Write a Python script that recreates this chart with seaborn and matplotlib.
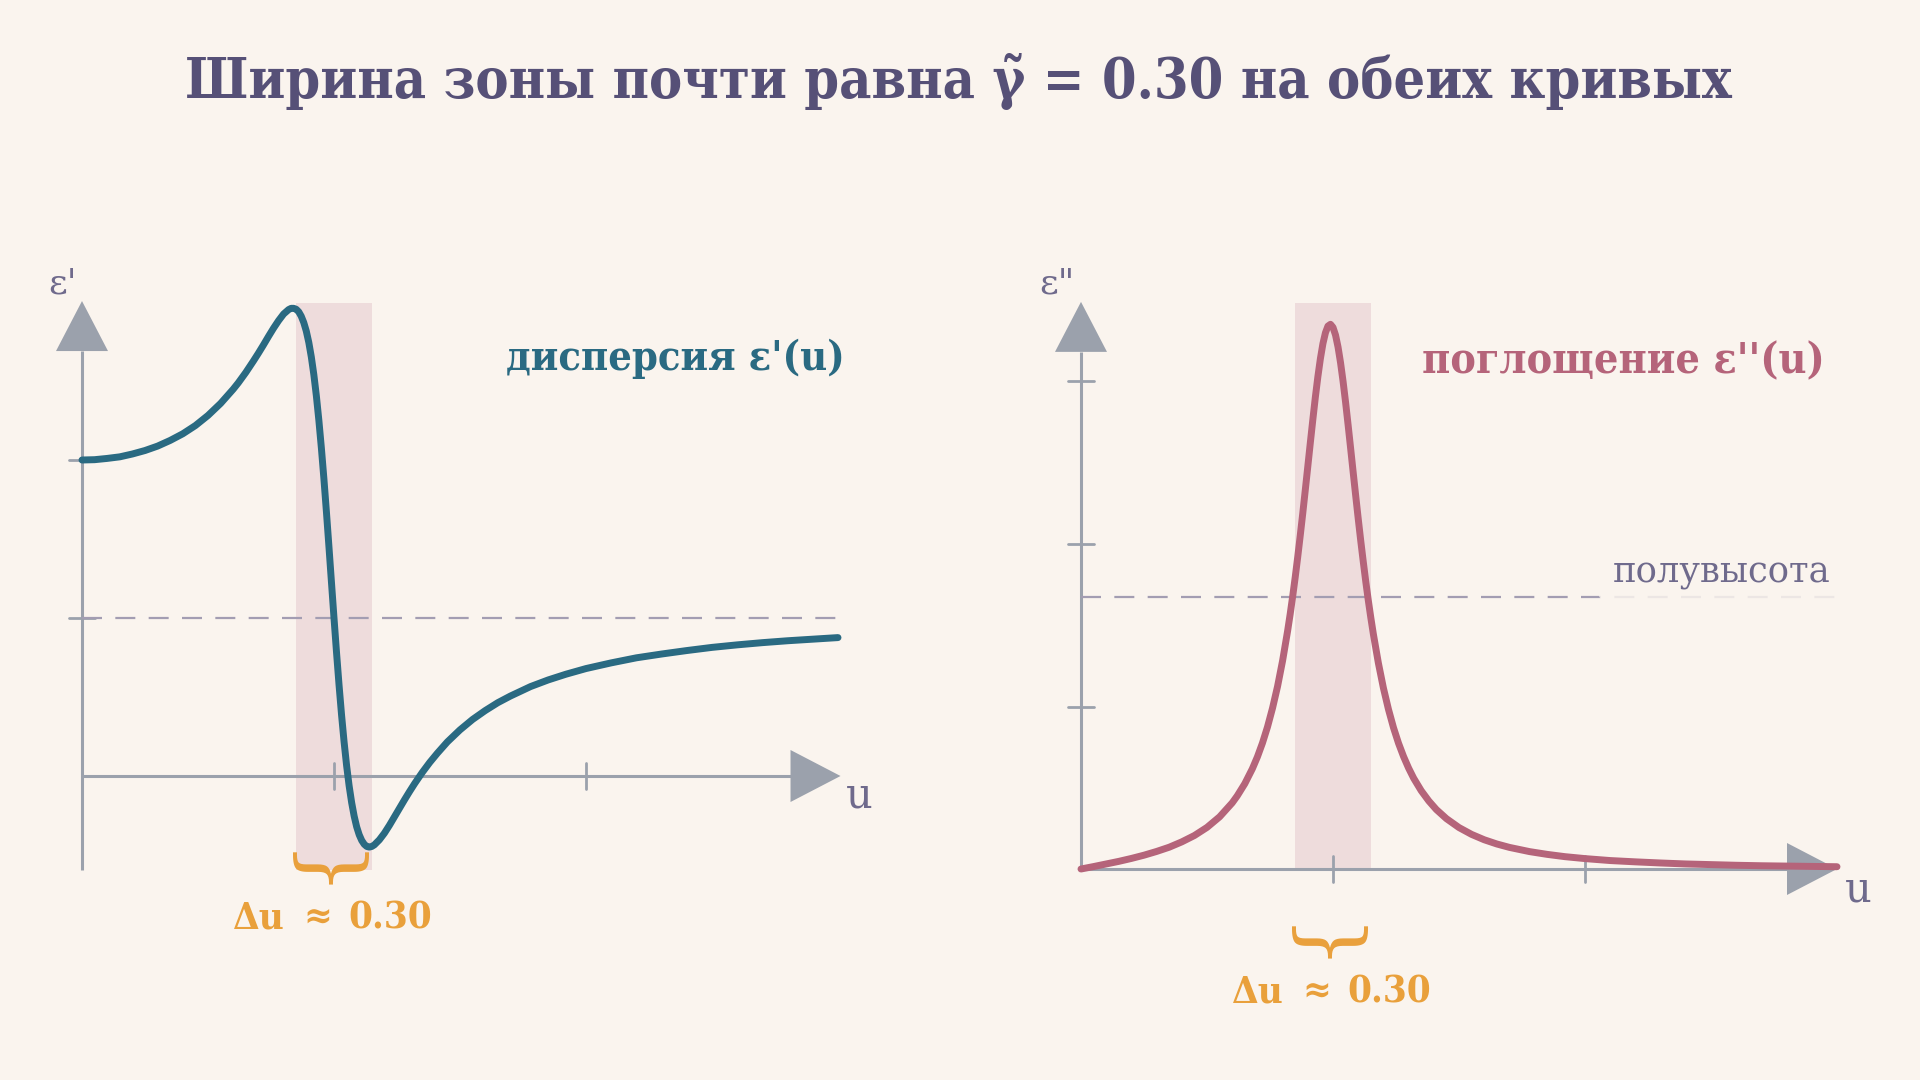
import numpy as np
import pandas as pd
import seaborn as sns
import matplotlib.pyplot as plt
from matplotlib.patches import Polygon

# values (resonance at u = 1, width 0.30)
u = [0.0, 0.05, 0.1, 0.15, 0.2, 0.25, 0.3, 0.35, 0.4, 0.45, 0.5, 0.55, 0.6,
     0.62, 0.65, 0.68, 0.7, 0.72, 0.74, 0.76, 0.78, 0.8, 0.82,
     0.83, 0.84, 0.85, 0.86, 0.87, 0.88, 0.89, 0.9, 0.91, 0.92, 0.93, 0.94, 0.95, 0.96, 0.97, 0.98, 0.99,
     1.0, 1.01, 1.02, 1.03, 1.04, 1.05, 1.06, 1.07, 1.08, 1.09, 1.1, 1.11, 1.12, 1.13, 1.14, 1.15, 1.16,
     1.18, 1.2, 1.22, 1.24, 1.26, 1.28, 1.3, 1.32,
     1.35, 1.38, 1.41, 1.45, 1.5, 1.55, 1.6, 1.65, 1.7,
     1.78, 1.85, 1.92, 2.0,
     2.1, 2.2, 2.3, 2.4, 2.5, 2.6, 2.7, 2.8, 2.9, 3.0]
eps_re = [1.000, 1.001, 1.005, 1.010, 1.019, 1.030, 1.044, 1.062, 1.083, 1.109, 1.141, 1.179, 1.224,
          1.244, 1.277, 1.313, 1.338, 1.364, 1.391, 1.417, 1.441, 1.462, 1.476,
          1.480, 1.480, 1.477, 1.469, 1.455, 1.435, 1.408, 1.372, 1.326, 1.270, 1.203, 1.125, 1.037, 0.940,
          0.835, 0.725, 0.612,
          0.500, 0.391, 0.288, 0.193, 0.108, 0.033, -0.031, -0.084, -0.127, -0.161, -0.186, -0.204, -0.216,
          -0.223, -0.225, -0.223, -0.218,
          -0.202, -0.181, -0.156, -0.129, -0.102, -0.075, -0.049, -0.024,
          0.011, 0.043, 0.072, 0.108, 0.146, 0.179, 0.207, 0.232, 0.253,
          0.283, 0.304, 0.322, 0.340,
          0.358, 0.374, 0.386, 0.397, 0.407, 0.415, 0.422, 0.428, 0.433, 0.438]
eps_im = [0.000, 0.015, 0.031, 0.047, 0.065, 0.085, 0.108, 0.134, 0.167, 0.206, 0.256, 0.321, 0.407,
          0.450, 0.525, 0.617, 0.690, 0.775, 0.874, 0.990, 1.124, 1.282, 1.466,
          1.568, 1.678, 1.795, 1.920, 2.052, 2.189, 2.332, 2.477, 2.623, 2.766, 2.904, 3.030, 3.141, 3.233,
          3.300, 3.341, 3.352,
          3.333, 3.286, 3.212, 3.115, 3.000, 2.871, 2.732, 2.588, 2.442, 2.298, 2.157, 2.021, 1.892,
          1.769, 1.654, 1.547, 1.447,
          1.268, 1.114, 0.983, 0.870, 0.774, 0.692, 0.621, 0.559,
          0.482, 0.419, 0.366, 0.310, 0.255, 0.213, 0.180, 0.154, 0.133,
          0.107, 0.090, 0.076, 0.064,
          0.052, 0.044, 0.037, 0.031, 0.027, 0.023, 0.020, 0.018, 0.016, 0.014]
band = [0.85, 1.15]      # zone of width ~0.30 around the resonance
eps_inf = 0.5            # level of the dashed line on the dispersion plot
re_ticks_x = [1, 2]
re_ticks_y = [0.5, 1.0]
im_ticks_x = [1, 2]
im_ticks_y = [1, 2, 3]
width_label = ['Δu', '≈', '0.30']

df = pd.DataFrame({'u': u, 're': eps_re, 'im': eps_im})

BG = '#FAF4EE'
AXIS = '#9BA1AC'
DASH = '#A39DB2'
BAND = '#EEDCDC'
TEAL = '#2A6A82'
PINK = '#B5647A'
ORANGE = '#E9A03B'
TITLE = '#565077'
LABEL = '#6F6A8C'

sns.set_theme(style="white")
plt.rcParams['font.family'] = ['DejaVu Serif', 'DejaVu Sans']

W, H = 1920, 1080
fig = plt.figure(figsize=(19.2, 10.8), dpi=100, facecolor=BG)


def px(x, y):
    return x / W, 1 - y / H


def panel(x0, y0, sx, sy, xlim, ylim):
    rect = [(x0 + sx * xlim[0]) / W, (H - y0 + sy * ylim[0]) / H,
            sx * (xlim[1] - xlim[0]) / W, sy * (ylim[1] - ylim[0]) / H]
    ax = fig.add_axes(rect)
    ax.set_xlim(xlim)
    ax.set_ylim(ylim)
    ax.set_facecolor('none')
    ax.axis('off')
    return ax


def frame(ax, sx, sy, x_tip, y_tip, y_low, xt, yt):
    head, half, tk = 50, 26, 13
    ax.plot([0, 0], [y_low, y_tip - head / sy], color=AXIS, lw=2.2, solid_capstyle='butt', zorder=2)
    ax.plot([0, x_tip - head / sx], [0, 0], color=AXIS, lw=2.2, solid_capstyle='butt', zorder=2)
    ax.add_patch(Polygon([[-half / sx, y_tip - head / sy], [half / sx, y_tip - head / sy], [0, y_tip]],
                         closed=True, fc=AXIS, ec='none', zorder=2))
    ax.add_patch(Polygon([[x_tip - head / sx, -half / sy], [x_tip - head / sx, half / sy], [x_tip, 0]],
                         closed=True, fc=AXIS, ec='none', zorder=2))
    for t in xt:
        ax.plot([t, t], [-tk / sy, tk / sy], color=AXIS, lw=2.0, zorder=2)
    for t in yt:
        ax.plot([-tk / sx, tk / sx], [t, t], color=AXIS, lw=2.0, zorder=2)


# left: dispersion
sx, sy = 252, 316
ax1 = panel(82, 776, sx, sy, (-0.3, 3.25), (-0.55, 1.85))
ax1.fill_between(band, -0.297, 1.497, color=BAND, lw=0, zorder=1)
frame(ax1, sx, sy, 3.01, 1.503, -0.297, re_ticks_x, re_ticks_y)
ax1.plot([0, 3.0], [eps_inf, eps_inf], color=DASH, lw=1.6, ls=(0, (9, 6)), zorder=2)
sns.lineplot(data=df, x='u', y='re', ax=ax1, color=TEAL, linewidth=5.0, zorder=4)
ax1.axis('off')

# right: absorption
sx2, sy2 = 252, 162.5
ax2 = panel(1081, 869, sx2, sy2, (-0.3, 3.25), (-0.6, 3.9))
ax2.fill_between(band, 0, 3.48, color=BAND, lw=0, zorder=1)
frame(ax2, sx2, sy2, 3.0, 3.49, 0, im_ticks_x, im_ticks_y)
half_h = max(eps_im) / 2
ax2.plot([0, 3.0], [half_h, half_h], color=DASH, lw=1.6, ls=(0, (9, 6)), zorder=2)
sns.lineplot(data=df, x='u', y='im', ax=ax2, color=PINK, linewidth=5.0, zorder=4)
ax2.axis('off')

# texts
fig.text(*px(958, 98), 'Ширина зоны почти равна γ̃ = 0.30 на обеих кривых', ha='center', va='baseline',
         fontsize=40, fontweight='bold', fontstretch='condensed', color=TITLE)
fig.text(*px(63, 284), "ε'", ha='center', va='center', fontsize=26, color=LABEL)
fig.text(*px(1057, 284), 'ε"', ha='center', va='center', fontsize=26, color=LABEL)
fig.text(*px(859, 795), 'u', ha='center', va='center', fontsize=30, color=LABEL)
fig.text(*px(1858, 890), 'u', ha='center', va='center', fontsize=30, color=LABEL)
fig.text(*px(845, 370), "дисперсия ε'(u)", ha='right', va='baseline', fontsize=29.8,
         fontweight='bold', fontstretch='condensed', color=TEAL)
fig.text(*px(1825, 373), "поглощение ε''(u)", ha='right', va='baseline', fontsize=30.8,
         fontweight='bold', fontstretch='condensed', color=PINK, zorder=5)
fig.text(*px(1830, 582), 'полувысота', ha='right', va='baseline', fontsize=25.5, color=LABEL,
         zorder=5, bbox=dict(boxstyle='round,pad=0.4', fc=BG, ec='none', alpha=0.85))

for dx, dy in [(0, 0), (999, 74)]:
    fig.text(*px(324 + dx, 857 + dy), '{', rotation=90, ha='center', va='center', fontsize=60,
             color=ORANGE)
    for cx, s in zip([259, 318, 390], width_label):
        fig.text(*px(cx + dx, 918 + dy), s, ha='center', va='center', fontsize=27.5,
                 fontweight='bold', fontstretch='condensed', color=ORANGE)

fig.savefig('out.png', dpi=100, facecolor=BG)
